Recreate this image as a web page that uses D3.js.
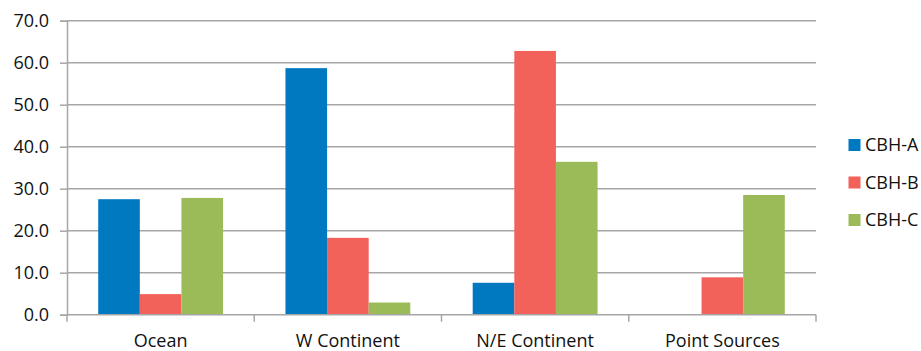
<!DOCTYPE html>
<html>
<head>
<meta charset="utf-8">
<script src="https://cdn.jsdelivr.net/npm/d3@7"></script>
<style>
  html, body { margin: 0; padding: 0; background: #fff; }
  svg { display: block; font-family: "Open Sans", "Noto Sans", sans-serif; }
</style>
</head>
<body>
<svg id="chart" width="921" height="351"></svg>
<script>
// Source regions on the x axis
const categories = ["Ocean", "W Continent", "N/E Continent", "Point Sources"];
// Series names and values (%)
const seriesNames = ["CBH-A", "CBH-B", "CBH-C"];
const cbhA = [27.5, 58.7, 7.6, 0.0];
const cbhB = [4.9, 18.3, 62.8, 8.9];
const cbhC = [27.8, 2.9, 36.4, 28.5];
const seriesColors = ["#0079C1", "#F2615A", "#9BBB59"];
const yTicks = [0, 10, 20, 30, 40, 50, 60, 70];

const seriesValues = [cbhA, cbhB, cbhC];
const rows = categories.map((c, i) => ({
  category: c,
  values: seriesNames.map((s, j) => ({ key: s, value: seriesValues[j][i] }))
}));

const svg = d3.select("#chart");
const margin = { left: 67, right: 105, top: 20.7, bottom: 36.3 };
const width = 921 - margin.left - margin.right;
const height = 351 - margin.top - margin.bottom;
const fontSize = 18;
const textColor = "#111";

const g = svg.append("g").attr("transform", `translate(${margin.left},${margin.top})`);

const x0 = d3.scaleBand().domain(categories).range([0, width]).paddingInner(0).paddingOuter(0);
const groupPad = x0.bandwidth() / 6;
const x1 = d3.scaleBand().domain(seriesNames).range([groupPad, x0.bandwidth() - groupPad]);
const y = d3.scaleLinear().domain([0, 70]).range([height, 0]);
const color = d3.scaleOrdinal().domain(seriesNames).range(seriesColors);

const gridColor = "#A6A6A6";

// Horizontal gridlines
g.append("g")
  .selectAll("line")
  .data(yTicks.filter(t => t > 0))
  .join("line")
  .attr("x1", 0).attr("x2", width)
  .attr("y1", d => y(d)).attr("y2", d => y(d))
  .attr("stroke", gridColor).attr("stroke-width", 1.5);

// Y axis
const yAxis = g.append("g")
  .call(d3.axisLeft(y).tickValues(yTicks).tickFormat(d3.format(".1f")).tickSize(7).tickPadding(11));
yAxis.select(".domain").attr("stroke", gridColor).attr("stroke-width", 1.5);
yAxis.selectAll(".tick line").attr("stroke", gridColor).attr("stroke-width", 1.5);
yAxis.selectAll("text").attr("font-size", fontSize).attr("fill", textColor)
  .attr("font-family", "'Open Sans', sans-serif");

// Bars
g.append("g")
  .selectAll("g")
  .data(rows)
  .join("g")
  .attr("transform", d => `translate(${x0(d.category)},0)`)
  .selectAll("rect")
  .data(d => d.values)
  .join("rect")
  .attr("x", d => x1(d.key))
  .attr("width", x1.bandwidth())
  .attr("y", d => y(d.value))
  .attr("height", d => y(0) - y(d.value))
  .attr("fill", d => color(d.key));

// X axis
const xAxisScale = d3.scaleLinear().domain([0, categories.length]).range([0, width]);
const xg = g.append("g").attr("transform", `translate(0,${height})`);
xg.append("line").attr("x1", 0).attr("x2", width).attr("y1", 0).attr("y2", 0)
  .attr("stroke", gridColor).attr("stroke-width", 1.5);
xg.selectAll("line.tick")
  .data(d3.range(categories.length + 1))
  .join("line")
  .attr("class", "tick")
  .attr("x1", d => xAxisScale(d)).attr("x2", d => xAxisScale(d))
  .attr("y1", 0).attr("y2", 7)
  .attr("stroke", gridColor).attr("stroke-width", 1.5);
xg.selectAll("text")
  .data(categories)
  .join("text")
  .attr("x", d => x0(d) + x0.bandwidth() / 2)
  .attr("y", 32.5)
  .attr("text-anchor", "middle")
  .attr("font-size", fontSize)
  .attr("fill", textColor)
  .text(d => d);

// Legend
const legend = svg.append("g").attr("transform", "translate(848.5,145)");
const li = legend.selectAll("g").data(seriesNames).join("g")
  .attr("transform", (d, i) => `translate(0,${i * 37.5})`);
li.append("rect").attr("x", 0).attr("y", -6).attr("width", 12).attr("height", 12)
  .attr("fill", d => color(d));
li.append("text").attr("x", 16.5).attr("y", 0).attr("dy", "0.35em")
  .attr("font-size", fontSize).attr("fill", textColor).text(d => d);
</script>
</body>
</html>
